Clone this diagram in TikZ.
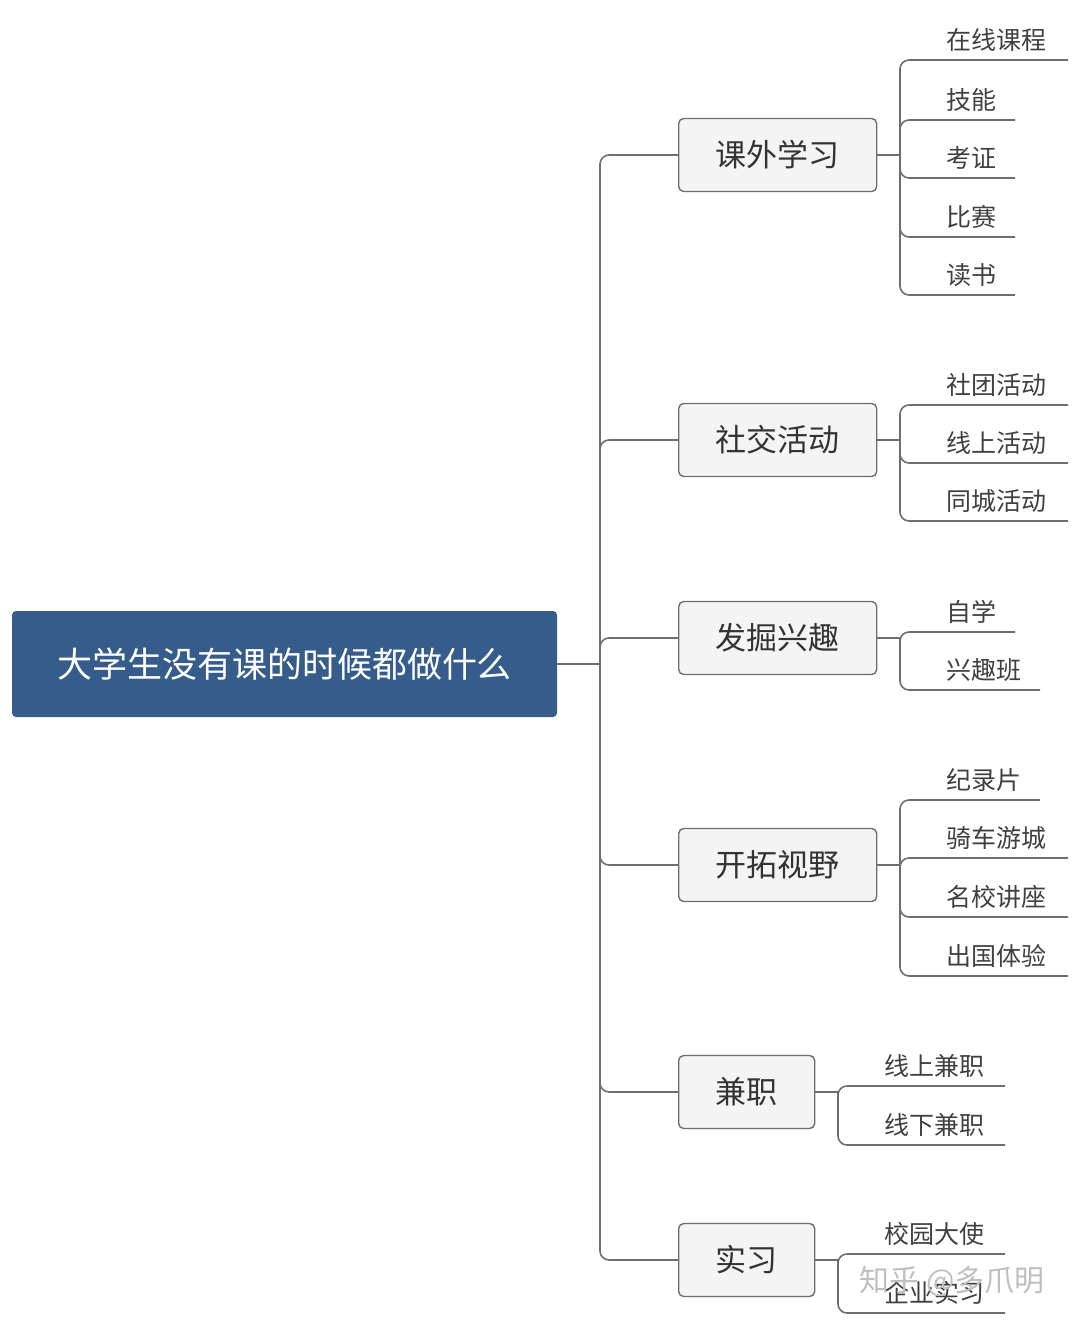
\documentclass[tikz,border=0pt]{standalone}
\usepackage{fontspec}
\setmainfont{Noto Sans CJK SC}
\definecolor{rootblue}{HTML}{355C8A}
\definecolor{linegray}{HTML}{6E6E6E}
\definecolor{boxfill}{HTML}{F4F4F4}
\tikzset{
  link/.style={draw=linegray, line width=1.6pt, rounded corners=9pt},
  rootbox/.style={rectangle, rounded corners=4pt, fill=rootblue, text=white, font=\fontsize{35}{38}\selectfont, minimum width=545pt, minimum height=106pt},
  topic/.style={rectangle, rounded corners=5pt, draw=linegray, line width=1.4pt, fill=boxfill, text=black!80, font=\fontsize{31}{34}\selectfont, minimum height=73pt},
  leaf/.style={anchor=south west, inner sep=0pt, text=black!75, font=\fontsize{25}{28}\selectfont}
}
\begin{document}
\begin{tikzpicture}[x=1pt, y=-1pt]
  \useasboundingbox (0,0) rectangle (1080,1328);
  \node[rootbox] (root) at (284.5,664) {大学生没有课的时候都做什么};
  \coordinate (trunk) at (600,664);
  \draw[link] (root.east) -- (trunk);
  % topics: name/center y/width/label
  \foreach \t/\cy/\w/\txt in {study/155/198/课外学习, social/440/198/社交活动, hobby/638/198/发掘兴趣, view/865/198/开拓视野, job/1092/136/兼职, intern/1260/136/实习}{
    \node[topic, minimum width=\w pt, anchor=west] (\t) at (678,\cy) {\txt};
    \draw[link] (trunk) |- (\t.west);
  }
  % leaves: topic/bracket x/text x/line y/line end/label
  \foreach \t/\bx/\tx/\ly/\le/\txt in {
      study/900/946/60/1068/在线课程, study/900/946/120/1015/技能, study/900/946/178/1015/考证,
      study/900/946/237/1015/比赛, study/900/946/295/1015/读书,
      social/900/946/405/1068/社团活动, social/900/946/463/1068/线上活动, social/900/946/521/1068/同城活动,
      hobby/900/946/632/1015/自学, hobby/900/946/690/1040/兴趣班,
      view/900/946/800/1040/纪录片, view/900/946/858/1068/骑车游城, view/900/946/917/1068/名校讲座, view/900/946/976/1068/出国体验,
      job/838/884/1086/1005/线上兼职, job/838/884/1145/1005/线下兼职,
      intern/838/884/1254/1005/校园大使, intern/838/884/1313/1005/企业实习}{
    \node[leaf] (\t-\ly) at (\tx,\ly-8) {\txt};
    \coordinate (\t-\ly-end) at (\le,\ly);
    \coordinate (\t-fork) at (\bx,0 |- \t.east);
    \draw[link] (\t.east) -- (\t-fork);
    \draw[link] (\t-fork) |- (\t-\ly-end);
  }
  \node[text=black!25, font=\fontsize{30}{32}\selectfont] (mark) at (952,1281) {知乎 @多爪明};
\end{tikzpicture}
\end{document}
